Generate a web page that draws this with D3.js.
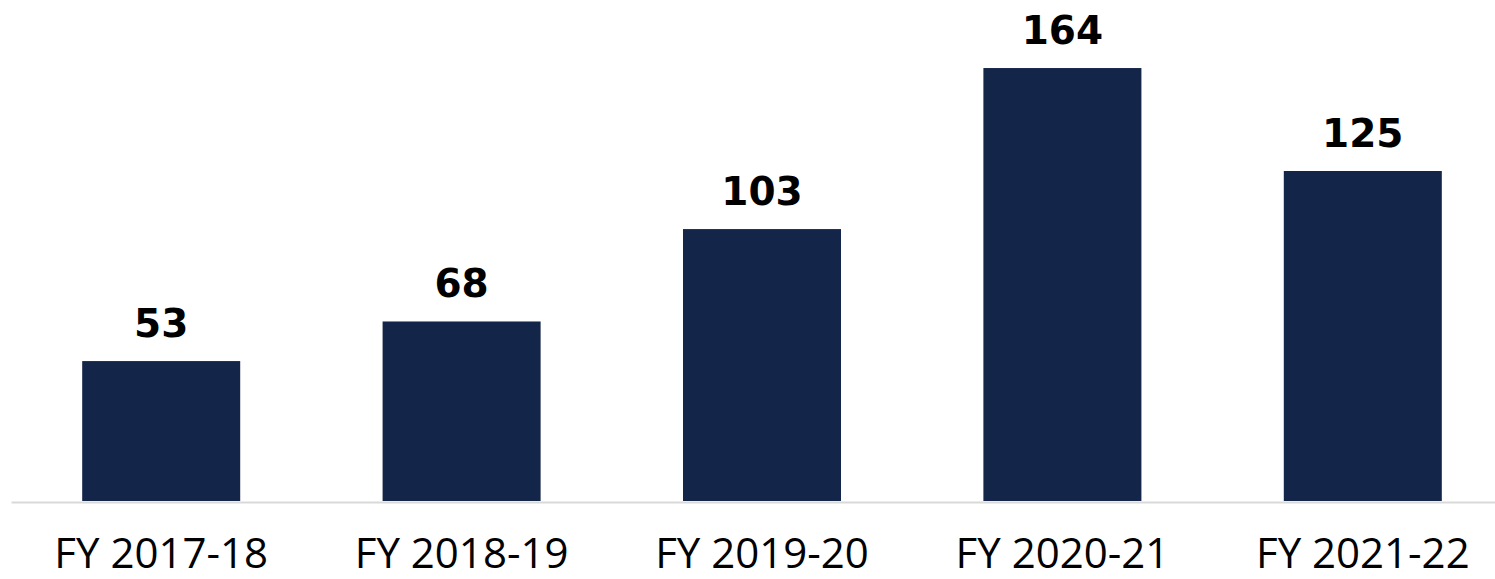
<!DOCTYPE html>
<html>
<head>
<meta charset="utf-8">
<script src="https://cdn.jsdelivr.net/npm/d3@7"></script>
<style>
  body { margin: 0; background: #fff; }
</style>
</head>
<body>
<div id="chart"></div>
<script>
// data
const years = ["FY 2017-18", "FY 2018-19", "FY 2019-20", "FY 2020-21", "FY 2021-22"];
const values = [53, 68, 103, 164, 125];

// set up
const width = 1495;
const height = 579;
const baseY = 501;

const svg = d3.select('#chart')
    .append('svg')
    .attr('width', width)
    .attr('height', height);

// scales
const x = d3.scaleBand()
    .domain(years)
    .range([11, 1513])
    .paddingInner(0.474)
    .paddingOuter(0.237);

const y = d3.scaleLinear()
    .domain([0, 180])
    .range([baseY, baseY - 180 * 2.64]);

// bars
svg.append('g')
  .selectAll('rect')
  .data(values)
  .join('rect')
    .attr('x', (d, i) => x(years[i]))
    .attr('y', d => y(d))
    .attr('width', x.bandwidth())
    .attr('height', d => y(0) - y(d))
    .attr('fill', '#132548');

// x axis (baseline + labels)
const xAxis = d3.axisBottom(x).tickSize(0).tickPadding(0);

const gx = svg.append('g')
    .attr('transform', `translate(0,${baseY + 1})`)
    .call(xAxis);

gx.select('.domain')
    .attr('stroke', '#d9d9d9')
    .attr('stroke-width', 2);

// labels sit low, keep the descent box inside the picture
gx.selectAll('text')
    .attr('dy', null)
    .attr('y', 66)
    .attr('fill', '#000')
    .attr('font-family', 'Open Sans')
    .attr('font-size', '42px');

// value labels
svg.append('g')
  .selectAll('text')
  .data(values)
  .join('text')
    .attr('x', (d, i) => x(years[i]) + x.bandwidth() / 2)
    .attr('y', d => y(d) - 24)
    .attr('text-anchor', 'middle')
    .attr('font-family', 'DejaVu Sans')
    .attr('font-weight', 'bold')
    .attr('font-size', '39px')
    .attr('fill', '#000')
    .text(d => d);
</script>
</body>
</html>
